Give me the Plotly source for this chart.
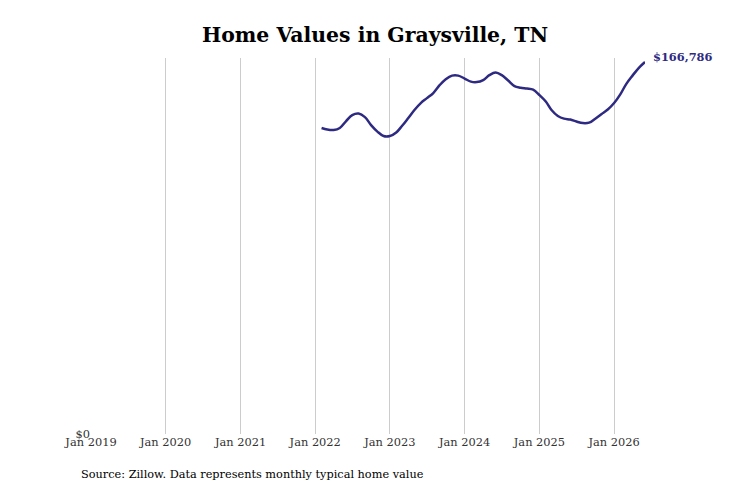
import plotly.graph_objects as go
import pandas as pd

# monthly typical home value, Feb 2022 .. Jun 2026
months = pd.date_range("2022-02-01", "2026-06-01", freq="MS")
values = [
    137200, 136500, 136300, 137200, 140300, 143000, 143700, 142100, 138500, 135600, 133600,
    133600, 135200, 138100, 141700, 145300, 148400, 150600, 152900, 156400, 159100, 160700, 160700,
    159400, 158000, 157800, 158700, 160900, 162100, 160900, 158500, 156000, 155300, 154900, 154400,
    152000, 149100, 145300, 142600, 141400, 141000, 140100, 139400, 139600, 141400, 143500, 145500,
    148400, 152400, 156900, 160700, 164100, 166786,
]
tick_dates = pd.date_range("2019-01-01", "2026-01-01", freq="YS")
tick_text = [d.strftime("Jan %Y") for d in tick_dates]

line_color = "#2e2a82"

fig = go.Figure(go.Scatter(
    x=months, y=values, mode="lines",
    line=dict(color=line_color, width=2.5, shape="spline"),
    hoverinfo="skip",
))

# label at the end of the line
fig.add_annotation(
    x=months[-1], y=values[-1], text="<b>$%s</b>" % format(values[-1], ","),
    showarrow=False, xanchor="left", yanchor="bottom", xshift=6, yshift=-4,
    font=dict(family="DejaVu Serif", size=11.4, color=line_color),
)

fig.add_annotation(
    xref="paper", yref="paper", x=-0.0224, y=-0.108, xanchor="left", yanchor="middle",
    text="Source: Zillow. Data represents monthly typical home value",
    showarrow=False, font=dict(family="DejaVu Serif", size=11.3, color="black"),
)

# page has an 8px body margin, so the figure is a bit smaller than the window
fig.update_layout(
    width=723, height=479,
    margin=dict(l=83, r=86, t=50, b=53),
    paper_bgcolor="white", plot_bgcolor="white",
    font=dict(family="DejaVu Serif", size=11.4, color="#333333"),
    title=dict(text="<b>Home Values in Graysville, TN</b>", x=0.5076, xanchor="center", y=0.943, yanchor="middle",
               font=dict(family="DejaVu Serif", size=20.4, color="black")),
    showlegend=False,
    xaxis=dict(
        range=["2019-01-01", "2026-06-01"], tickvals=tick_dates, ticktext=tick_text,
        showgrid=True, gridcolor="#cccccc", gridwidth=1, zeroline=False, showline=False,
        ticks="", tickfont=dict(size=11.4, color="#333333"),
    ),
    yaxis=dict(
        range=[0, 168600], tickvals=[0], ticktext=["$0"], showgrid=False, zeroline=False,
        showline=False, ticks="", tickfont=dict(size=11.4, color="#333333"),
    ),
)

fig.write_html("out.html")
